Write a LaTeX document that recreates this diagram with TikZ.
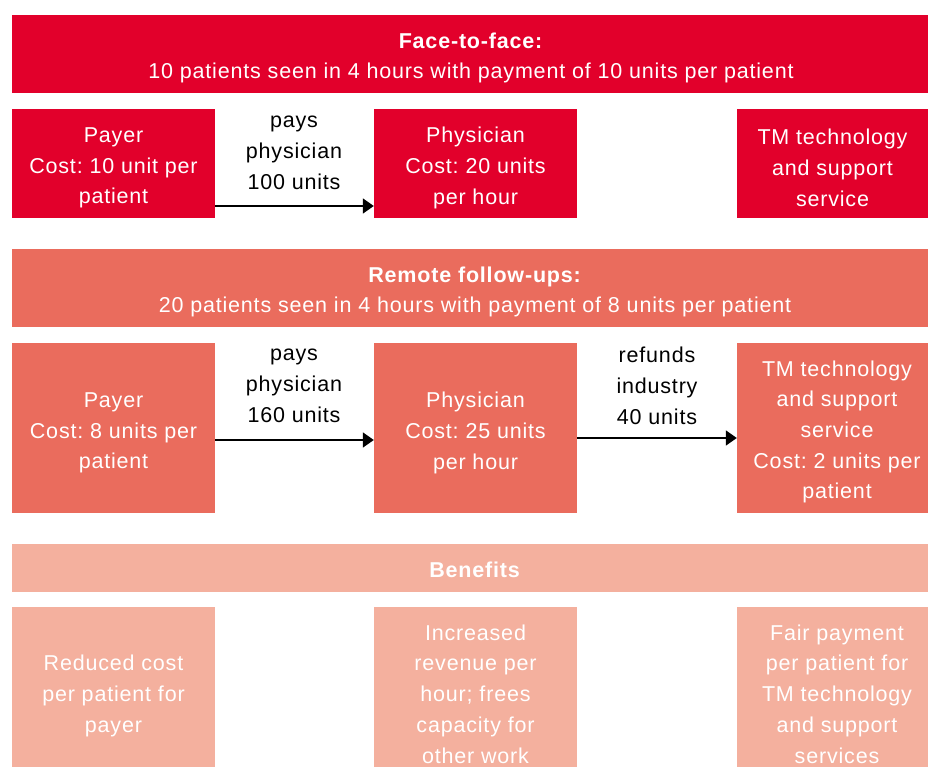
\documentclass[tikz,border=0pt]{standalone}
\usepackage{fontspec}
\setmainfont{Liberation Sans}[LetterSpace=3.8]
\usetikzlibrary{arrows.meta}
\definecolor{cRed}{HTML}{E2002B}
\definecolor{cMid}{HTML}{EA6C5D}
\definecolor{cLight}{HTML}{F4B09E}
\tikzset{
  box/.style={fill=#1, draw=none, inner sep=0pt, align=center, text=white,
    font=\fontsize{21.5}{30.7}\selectfont},
  lbl/.style={inner sep=0pt, align=center, text=black,
    font=\fontsize{21.5}{30.7}\selectfont},
  arr/.style={line width=1.7pt, -{Triangle[length=11pt,width=15pt]}}
}
\begin{document}
\frenchspacing
\begin{tikzpicture}[x=1pt,y=-1pt]
\useasboundingbox (0,0) rectangle (928,767);
\clip (0,0) rectangle (928,767);
% banner 1
\node[box=cRed, minimum width=916pt, minimum height=78pt] (b1) at (470,54) {};
\node[lbl, text=white] (t1) at (471,58)
  {\textbf{Face-to-face:}\\10 patients seen in 4 hours with payment of 10 units per patient};
\node[box=cRed, minimum width=203pt, minimum height=109pt] (pay1) at (113.5,163.5) {};
\node[box=cRed, minimum width=203pt, minimum height=109pt] (phy1) at (475.5,163.5) {};
\node[box=cRed, minimum width=191pt, minimum height=109pt] (tm1) at (832.5,163.5) {};
\node[lbl, text=white] at (113.5,168) {Payer\\Cost: 10 unit per\\patient};
\node[lbl, text=white] at (475.5,168) {Physician\\Cost: 20 units\\per hour};
\node[lbl, text=white] at (832.5,168) {TM technology\\and support\\service};
\draw[arr] ([yshift=-42.5pt]pay1.east) -- ([yshift=-42.5pt]phy1.west);
\node[lbl] (l1) at (294,153) {pays\\physician\\100 units};
% banner 2
\node[box=cMid, minimum width=916pt, minimum height=78pt] (b2) at (470,288) {};
\node[lbl, text=white] (t2) at (475,292)
  {\textbf{Remote follow-ups:}\\20 patients seen in 4 hours with payment of 8 units per patient};
\node[box=cMid, minimum width=203pt, minimum height=170pt] (pay2) at (113.5,428) {};
\node[box=cMid, minimum width=203pt, minimum height=170pt] (phy2) at (475.5,428) {};
\node[box=cMid, minimum width=191pt, minimum height=170pt] (tm2) at (832.5,428) {};
\node[lbl, text=white] at (113.5,433) {Payer\\Cost: 8 units per\\patient};
\node[lbl, text=white] at (475.5,433) {Physician\\Cost: 25 units\\per hour};
\node[lbl, text=white] at (837,432) {TM technology\\and support\\service\\Cost: 2 units per\\patient};
\draw[arr] ([yshift=-12pt]pay2.east) -- ([yshift=-12pt]phy2.west);
\draw[arr] ([yshift=-10pt]phy2.east) -- ([yshift=-10pt]tm2.west);
\node[lbl] (l2) at (294,386) {pays\\physician\\160 units};
\node[lbl] (l3) at (657,386) {refunds\\industry\\40 units};
% banner 3
\node[box=cLight, minimum width=916pt, minimum height=48pt] (b3) at (470,568) {};
\node[lbl, text=white] at (475,570) {\textbf{Benefits}};
\node[box=cLight, minimum width=203pt, minimum height=174pt] (ben1) at (113.5,694) {};
\node[box=cLight, minimum width=203pt, minimum height=174pt] (ben2) at (475.5,694) {};
\node[box=cLight, minimum width=191pt, minimum height=174pt] (ben3) at (832.5,694) {};
\node[lbl, text=white] at (113.5,696) {Reduced cost\\per patient for\\payer};
\node[lbl, text=white] at (475.5,694) {Increased\\revenue per\\hour; frees\\capacity for\\other work};
\node[lbl, text=white] at (837,694) {Fair payment\\per patient for\\TM technology\\and support\\services};
\end{tikzpicture}
\end{document}
